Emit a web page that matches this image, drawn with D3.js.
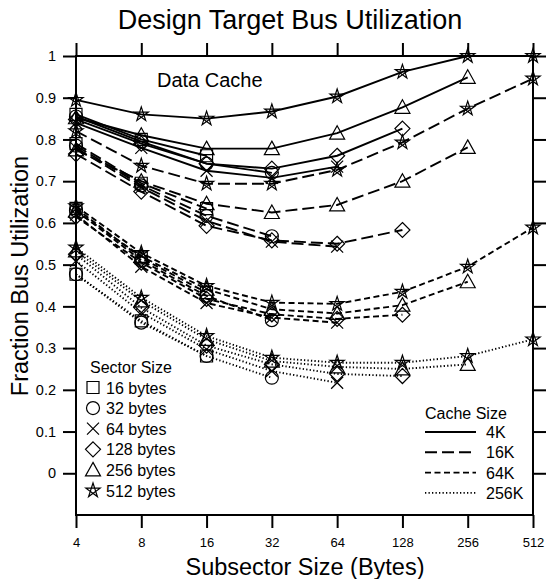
<!DOCTYPE html>
<html lang="en">
<head>
<meta charset="utf-8">
<title>Design Target Bus Utilization</title>
<script src="https://d3js.org/d3.v7.min.js"></script>
<style>
  body { margin: 0; background: #fff; }
  text { font-family: "Liberation Sans", Arial, sans-serif; fill: #000; }
</style>
</head>
<body>
<svg id="chart"></svg>
<script>
// x: subsector size, one series per sector size (points run from 4 up to the sector size)
const subsectorSizes = [4, 8, 16, 32, 64, 128, 256, 512];
const sectorSizes = [16, 32, 64, 128, 256, 512];
const sectorLabels = ["16 bytes", "32 bytes", "64 bytes", "128 bytes", "256 bytes", "512 bytes"];
const cacheSizes = ["4K", "16K", "64K", "256K"];
const yTicks = [0, 0.1, 0.2, 0.3, 0.4, 0.5, 0.6, 0.7, 0.8, 0.9, 1];

const util4K = [
  [0.860, 0.800, 0.761],
  [0.855, 0.795, 0.742, 0.720],
  [0.840, 0.780, 0.725, 0.708, 0.735],
  [0.848, 0.790, 0.742, 0.730, 0.761, 0.826],
  [0.852, 0.810, 0.778, 0.778, 0.815, 0.877, 0.949],
  [0.895, 0.860, 0.850, 0.867, 0.903, 0.962, 1.000, 1.000]
];
const util16K = [
  [0.790, 0.695, 0.634],
  [0.785, 0.690, 0.617, 0.568],
  [0.780, 0.685, 0.605, 0.555, 0.543],
  [0.765, 0.675, 0.593, 0.558, 0.550, 0.583],
  [0.775, 0.700, 0.646, 0.625, 0.643, 0.700, 0.781],
  [0.820, 0.737, 0.694, 0.694, 0.727, 0.793, 0.874, 0.946]
];
const util64K = [
  [0.635, 0.516, 0.433],
  [0.630, 0.510, 0.425, 0.367],
  [0.620, 0.495, 0.408, 0.373, 0.361],
  [0.615, 0.505, 0.418, 0.381, 0.370, 0.380],
  [0.628, 0.520, 0.441, 0.393, 0.383, 0.403, 0.459],
  [0.640, 0.528, 0.449, 0.409, 0.406, 0.435, 0.495, 0.589]
];
const util256K = [
  [0.477, 0.365, 0.281],
  [0.477, 0.361, 0.281, 0.229],
  [0.509, 0.385, 0.297, 0.245, 0.217],
  [0.525, 0.397, 0.306, 0.261, 0.238, 0.233],
  [0.533, 0.413, 0.321, 0.269, 0.255, 0.250, 0.261],
  [0.541, 0.421, 0.329, 0.277, 0.265, 0.265, 0.281, 0.321]
];
const allUtil = [util4K, util16K, util64K, util256K];

const w = 547, h = 579;
const margin = {top: 56, right: 14, bottom: 64, left: 76};
const svg = d3.select("#chart").attr("width", w).attr("height", h);

const x = d3.scaleLog().base(2).domain([4, 512]).range([margin.left, w - margin.right]);
const y = d3.scaleLinear().domain([-0.1, 1]).range([h - margin.bottom, margin.top]);

const dashes = [null, "12,5", "6,3.5", "1.3,2.2"];

// marker paths
const markers = [
  "M-6,-6H6V6H-6Z",
  "M-6.5,0A6.5,6.5 0 1,0 6.5,0A6.5,6.5 0 1,0 -6.5,0Z",
  "M-6,-6L6,6M-6,6L6,-6",
  "M0,-7.5L7.5,0L0,7.5L-7.5,0Z",
  "M0,-7.5L7.5,6L-7.5,6Z",
  (function () {
    const pts = d3.range(5).map(i => {
      const a = -Math.PI / 2 + i * 4 * Math.PI / 5;
      return [7.5 * Math.cos(a), 7.5 * Math.sin(a)];
    });
    return "M" + pts.map(p => p[0].toFixed(2) + "," + p[1].toFixed(2)).join("L") + "Z";
  })()
];

// axes: ticks outward on all four sides
const tick = 13;
const gAx = svg.append("g");
const xAxisG = gAx.append("g").attr("transform", `translate(0,${y(-0.1)})`)
  .call(d3.axisBottom(x).tickValues(subsectorSizes).tickSize(tick).tickSizeOuter(0).tickFormat(d3.format("d")));
gAx.append("g").attr("transform", `translate(0,${y(1)})`)
  .call(d3.axisTop(x).tickValues(subsectorSizes).tickSize(tick).tickSizeOuter(0).tickFormat(""));
const yAxisG = gAx.append("g").attr("transform", `translate(${x(4)},0)`)
  .call(d3.axisLeft(y).tickValues(yTicks).tickSize(tick).tickSizeOuter(0).tickFormat(d3.format("~g")));
gAx.append("g").attr("transform", `translate(${x(512)},0)`)
  .call(d3.axisRight(y).tickValues(yTicks).tickSize(tick).tickSizeOuter(0).tickFormat(""));
gAx.selectAll(".domain").remove();
gAx.selectAll(".tick line").attr("stroke", "#000").attr("stroke-width", 2);
xAxisG.selectAll(".tick text").style("font-family", "'Liberation Sans', Arial, sans-serif")
  .style("font-size", "13px").attr("y", 23);
yAxisG.selectAll(".tick text").style("font-family", "'Liberation Sans', Arial, sans-serif")
  .style("font-size", "14.5px").attr("x", -20);

svg.append("rect")
  .attr("x", x(4)).attr("y", y(1))
  .attr("width", x(512) - x(4)).attr("height", y(-0.1) - y(1))
  .attr("fill", "none").attr("stroke", "#000").attr("stroke-width", 2);

// series
const line = d3.line().x(d => x(d[0])).y(d => y(d[1]));
const plot = svg.append("g");
allUtil.forEach((util, ci) => {
  util.forEach((vals, si) => {
    const pts = vals.map((v, i) => [subsectorSizes[i], v]);
    plot.append("path").datum(pts)
      .attr("d", line).attr("fill", "none").attr("stroke", "#000")
      .attr("stroke-width", 1.9).attr("stroke-dasharray", dashes[ci]);
  });
});
allUtil.forEach((util, ci) => {
  util.forEach((vals, si) => {
    plot.selectAll(null).data(vals).enter().append("path")
      .attr("transform", (v, i) => `translate(${x(subsectorSizes[i])},${y(v)})`)
      .attr("d", markers[si]).attr("fill", "none").attr("stroke", "#000").attr("stroke-width", 1.2);
  });
});

// titles
svg.append("text").attr("x", 290).attr("y", 29).attr("text-anchor", "middle")
  .style("font-size", "27px").text("Design Target Bus Utilization");
svg.append("text").attr("x", 305).attr("y", 575).attr("text-anchor", "middle")
  .style("font-size", "23.5px").text("Subsector Size (Bytes)");
svg.append("text").attr("transform", "translate(28,276) rotate(-90)").attr("text-anchor", "middle")
  .style("font-size", "23.5px").text("Fraction Bus Utilization");
svg.append("text").attr("x", 157).attr("y", 87).style("font-size", "20px").text("Data Cache");

// sector size legend
const leg1 = svg.append("g");
leg1.append("text").attr("x", 90).attr("y", 373).style("font-size", "16px").text("Sector Size");
sectorSizes.forEach((s, i) => {
  const yy = 387.5 + i * 20.6;
  leg1.append("path").attr("transform", `translate(93,${yy})`).attr("d", markers[i])
    .attr("fill", "none").attr("stroke", "#000").attr("stroke-width", 1.2);
  leg1.append("text").attr("x", 106).attr("y", yy + 6).style("font-size", "16px").text(sectorLabels[i]);
});

// cache size legend
const leg2 = svg.append("g");
leg2.append("text").attr("x", 425).attr("y", 419).style("font-size", "16px").text("Cache Size");
cacheSizes.forEach((c, i) => {
  const yy = 432 + i * 20.3;
  leg2.append("line").attr("x1", 425).attr("x2", 476).attr("y1", yy).attr("y2", yy)
    .attr("stroke", "#000").attr("stroke-width", 1.9).attr("stroke-dasharray", dashes[i]);
  leg2.append("text").attr("x", 486).attr("y", yy + 6).style("font-size", "16px").text(c);
});
</script>
</body>
</html>
